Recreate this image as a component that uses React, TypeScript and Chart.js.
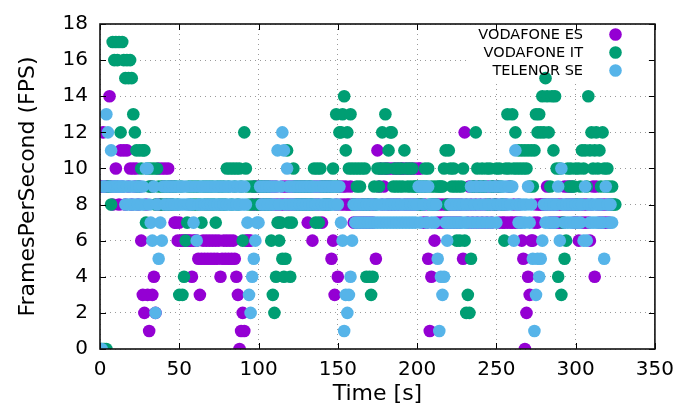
import React, { useEffect, useRef } from "react";
import { Chart, registerables } from "chart.js";

Chart.register(...registerables);

// ---- data -------------------------------------------------------------
const seriesLabels = ["VODAFONE ES", "VODAFONE IT", "TELENOR SE"];
const seriesColors = ["#9400d3", "#009e73", "#56b4e9"];
const xTickValues = [0, 50, 100, 150, 200, 250, 300, 350];
const yTickValues = [0, 2, 4, 6, 8, 10, 12, 14, 16, 18];
const xTitle = "Time [s]";
const yTitle = "FramesPerSecond (FPS)";

// FPS sample per second (index = time in seconds)
const fpsVodafoneES = [
  9, 9, 12, 9, 9, 9, 14, 9, 8, 9,
  10, 9, 8, 11, 9, 11, 8, 11, 9, 10,
  8, 10, 9, 10, 8, 9, 6, 3, 2, 8,
  3, 1, 9, 3, 4, 2, 8, 10, 8, 10,
  9, 10, 8, 10, 9, 8, 9, 7, 7, 6,
  7, 6, 6, 6, 6, 6, 6, 6, 4, 6,
  6, 6, 5, 3, 5, 6, 5, 6, 5, 6,
  5, 6, 5, 6, 5, 6, 4, 5, 6, 5,
  6, 5, 6, 5, 6, 5, 4, 3, 0, 1,
  2, 1, 6, 6, 6, 6, 8, 9, 8, 9,
  8, 9, 8, 9, 8, 9, 8, 9, 8, 9,
  8, 9, 8, 7, 8, 9, 8, 9, 8, 9,
  8, 9, 8, 9, 8, 9, 8, 9, 8, 9,
  8, 7, 9, 8, 6, 9, 8, 9, 8, 9,
  7, 9, 8, 9, 8, 9, 5, 6, 3, 8,
  4, 9, 8, 9, 8, 9, 8, 8, 9, 8,
  7, 8, 7, 8, 7, 8, 7, 8, 7, 8,
  7, 8, 7, 8, 5, 11, 9, 10, 8, 9,
  10, 8, 10, 8, 10, 8, 10, 8, 10, 8,
  10, 10, 8, 10, 8, 10, 8, 10, 8, 10,
  8, 10, 10, 8, 7, 8, 7, 5, 1, 4,
  8, 6, 8, 7, 8, 7, 8, 7, 8, 7,
  8, 7, 8, 7, 8, 7, 8, 7, 8, 5,
  12, 8, 7, 9, 8, 7, 9, 8, 7, 9,
  8, 7, 9, 8, 7, 9, 8, 7, 9, 8,
  8, 9, 7, 8, 7, 7, 8, 7, 9, 7,
  7, 8, 7, 7, 8, 7, 6, 5, 0, 2,
  4, 3, 6, 6, 7, 8, 7, 8, 8, 8,
  8, 8, 9, 8, 7, 8, 7, 8, 7, 8,
  7, 8, 7, 9, 8, 9, 8, 9, 8, 7,
  8, 7, 6, 8, 7, 8, 7, 8, 7, 6,
  8, 9, 4, 9, 8, 7, 8, 7, 8, 7,
  8, 7, 8,
];

const fpsVodafoneIT = [
  0, 0, 0, 0, 0, 9, 9, 8, 17, 16,
  17, 16, 17, 12, 17, 16, 15, 16, 15, 16,
  15, 13, 12, 11, 9, 11, 10, 11, 11, 7,
  10, 9, 10, 9, 10, 8, 10, 9, 8, 9,
  8, 9, 8, 9, 8, 9, 8, 9, 9, 8,
  3, 9, 3, 4, 6, 7, 9, 8, 9, 8,
  9, 8, 9, 8, 7, 9, 8, 9, 8, 9,
  8, 9, 8, 7, 9, 8, 9, 8, 9, 8,
  10, 9, 10, 8, 10, 9, 10, 8, 10, 9,
  6, 12, 10, 9, 8, 9, 8, 9, 9, 8,
  8, 9, 9, 8, 9, 8, 9, 8, 6, 3,
  2, 4, 7, 6, 7, 5, 4, 5, 11, 7,
  4, 7, 10, 9, 8, 9, 8, 9, 8, 9,
  8, 9, 8, 9, 8, 10, 7, 10, 7, 10,
  9, 8, 9, 8, 9, 8, 9, 10, 9, 13,
  9, 12, 12, 13, 14, 11, 12, 10, 13, 10,
  8, 10, 9, 10, 9, 10, 8, 10, 4, 8,
  4, 3, 4, 9, 8, 10, 9, 10, 12, 10,
  13, 10, 11, 12, 12, 9, 10, 9, 10, 9,
  10, 9, 11, 10, 9, 10, 9, 10, 9, 9,
  9, 8, 9, 8, 9, 10, 9, 10, 8, 9,
  8, 9, 8, 9, 9, 9, 9, 10, 11, 8,
  11, 10, 9, 10, 9, 6, 9, 6, 9, 10,
  6, 2, 3, 2, 5, 9, 9, 12, 10, 9,
  9, 10, 9, 9, 10, 8, 10, 9, 9, 8,
  10, 9, 10, 9, 8, 6, 10, 13, 10, 9,
  13, 10, 12, 10, 11, 10, 11, 10, 11, 10,
  11, 9, 11, 9, 11, 13, 12, 13, 12, 14,
  12, 15, 14, 12, 9, 14, 11, 14, 10, 4,
  10, 3, 7, 5, 6, 10, 9, 10, 9, 9,
  10, 8, 10, 9, 11, 10, 11, 9, 14, 11,
  12, 10, 11, 12, 10, 11, 9, 12, 10, 9,
  10, 9, 8, 9, 8, 8,
];

const fpsTelenorSE = [
  0, 0, 9, 9, 13, 12, 9, 11, 9, 9,
  9, 9, 9, 9, 9, 9, 8, 9, 8, 9,
  8, 9, 8, 9, 8, 9, 8, 9, 8, 10,
  10, 8, 7, 6, 9, 2, 8, 5, 7, 6,
  9, 8, 9, 8, 9, 8, 9, 8, 9, 8,
  9, 8, 9, 8, 9, 8, 8, 9, 8, 7,
  9, 6, 8, 9, 8, 9, 8, 9, 8, 9,
  8, 9, 8, 9, 8, 9, 8, 9, 8, 9,
  8, 9, 8, 9, 8, 9, 8, 9, 8, 9,
  8, 9, 8, 7, 3, 2, 4, 5, 6, 7,
  7, 9, 8, 9, 8, 9, 8, 9, 8, 9,
  8, 9, 11, 8, 9, 12, 11, 8, 10, 9,
  8, 9, 8, 9, 8, 9, 8, 9, 8, 9,
  8, 9, 8, 9, 8, 9, 8, 9, 8, 9,
  8, 9, 8, 9, 8, 9, 8, 9, 8, 9,
  8, 9, 7, 6, 1, 3, 2, 3, 4, 6,
  8, 7, 8, 7, 8, 7, 8, 7, 8, 7,
  8, 7, 8, 7, 8, 7, 8, 7, 8, 7,
  8, 7, 8, 7, 8, 7, 8, 7, 8, 7,
  8, 7, 8, 7, 8, 7, 8, 7, 8, 7,
  8, 9, 7, 9, 8, 9, 7, 9, 8, 7,
  8, 7, 8, 5, 1, 4, 3, 4, 7, 6,
  7, 8, 7, 8, 7, 8, 7, 8, 7, 8,
  7, 8, 7, 8, 9, 7, 8, 9, 7, 8,
  9, 7, 8, 9, 7, 8, 9, 7, 8, 9,
  7, 8, 9, 8, 9, 8, 9, 8, 9, 8,
  9, 6, 11, 8, 7, 8, 7, 8, 7, 8,
  9, 7, 8, 5, 1, 3, 5, 4, 5, 6,
  8, 7, 8, 7, 8, 7, 8, 7, 8, 9,
  6, 10, 8, 7, 8, 7, 8, 7, 8, 7,
  8, 7, 8, 7, 8, 6, 9, 6, 8, 7,
  8, 7, 8, 7, 8, 7, 8, 7, 5, 9,
  8, 7, 8, 7,
];

const seriesValues = [fpsVodafoneES, fpsVodafoneIT, fpsTelenorSE];

// ---- styling ----------------------------------------------------------
const FONT = "'DejaVu Sans', sans-serif";
const W = 683;
const H = 411;
const AREA = { left: 100, top: 19, right: 658, bottom: 349 };

const gnuplotDecor = {
  id: "gnuplotDecor",
  beforeDatasetsDraw(chart: any) {
    const { ctx, chartArea: a } = chart;
    // key area is blank (no grid behind the key)
    ctx.save();
    ctx.fillStyle = "#ffffff";
    ctx.fillRect(470, a.top + 1, 178, 59);
    ctx.restore();
  },
  afterDatasetsDraw(chart: any) {
    const { ctx, chartArea: a, scales } = chart;
    ctx.save();
    ctx.strokeStyle = "#000000";
    ctx.lineWidth = 1;
    const tl = 6;
    ctx.beginPath();
    xTickValues.forEach((v) => {
      const x = Math.round(scales.x.getPixelForValue(v)) + 0.5;
      ctx.moveTo(x, a.bottom);
      ctx.lineTo(x, a.bottom - tl);
      ctx.moveTo(x, a.top);
      ctx.lineTo(x, a.top + tl);
    });
    yTickValues.forEach((v) => {
      const y = Math.round(scales.y.getPixelForValue(v)) + 0.5;
      ctx.moveTo(a.left, y);
      ctx.lineTo(a.left + tl, y);
      ctx.moveTo(a.right, y);
      ctx.lineTo(a.right - tl, y);
    });
    ctx.stroke();
    // frame
    ctx.lineWidth = 1.6;
    ctx.strokeStyle = "#111111";
    ctx.strokeRect(a.left, a.top, a.right - a.left, a.bottom - a.top);

    // key
    ctx.font = `14.5px ${FONT}`;
    ctx.textAlign = "right";
    ctx.textBaseline = "middle";
    seriesLabels.forEach((label, i) => {
      const y = 34.5 + i * 18;
      ctx.fillStyle = "#000000";
      ctx.fillText(label, 583, y + 0.5);
      ctx.beginPath();
      ctx.fillStyle = seriesColors[i];
      ctx.arc(615.5, y, 6.3, 0, Math.PI * 2);
      ctx.fill();
    });
    ctx.restore();
  },
};

export default function App() {
  const canvasRef = useRef<HTMLCanvasElement | null>(null);

  useEffect(() => {
    const canvas = canvasRef.current;
    if (!canvas) return;
    const datasets = seriesLabels.map((label, i) => ({
      label,
      data: seriesValues[i].map((v, t) => ({ x: t, y: v })),
      backgroundColor: seriesColors[i],
      borderColor: seriesColors[i],
      pointRadius: 6.3,
      pointBorderWidth: 0,
      pointHoverRadius: 6.3,
      showLine: false,
      order: 3 - i,
    }));

    const chart = new Chart(canvas, {
      type: "scatter",
      data: { datasets },
      plugins: [gnuplotDecor],
      options: {
        responsive: false,
        animation: false,
        devicePixelRatio: 1,
        layout: {
          padding: { left: 0, top: AREA.top, right: W - AREA.right, bottom: 0 },
        },
        plugins: {
          legend: { display: false },
          tooltip: { enabled: false },
        },
        scales: {
          x: {
            type: "linear",
            min: 0,
            max: 350,
            afterFit: (s: any) => {
              s.height = H - AREA.bottom;
            },
            afterBuildTicks: (s: any) => {
              s.ticks = xTickValues.map((v) => ({ value: v }));
            },
            grid: { color: "#9a9a9a", lineWidth: 1, drawTicks: false },
            border: { display: false, dash: [1, 4] },
            ticks: {
              color: "#000",
              padding: 9,
              maxRotation: 0,
              font: { family: FONT, size: 20 },
            },
            title: {
              display: true,
              text: xTitle,
              color: "#000",
              font: { family: FONT, size: 22 },
              padding: { top: 0, bottom: 4 },
            },
          },
          y: {
            type: "linear",
            min: 0,
            max: 18,
            afterFit: (s: any) => {
              s.width = AREA.left;
            },
            afterBuildTicks: (s: any) => {
              s.ticks = yTickValues.map((v) => ({ value: v }));
            },
            grid: { color: "#9a9a9a", lineWidth: 1, drawTicks: false },
            border: { display: false, dash: [1, 4] },
            ticks: {
              color: "#000",
              padding: 12,
              font: { family: FONT, size: 20 },
            },
            title: {
              display: true,
              text: yTitle,
              color: "#000",
              font: { family: FONT, size: 22 },
              padding: { top: 15, bottom: 0 },
            },
          },
        },
      },
    });
    return () => chart.destroy();
  }, []);

  return (
    <div style={{ position: "fixed", left: 0, top: 0, width: W, height: H, background: "#fff" }}>
      <canvas ref={canvasRef} width={W} height={H} style={{ display: "block" }} />
    </div>
  );
}
